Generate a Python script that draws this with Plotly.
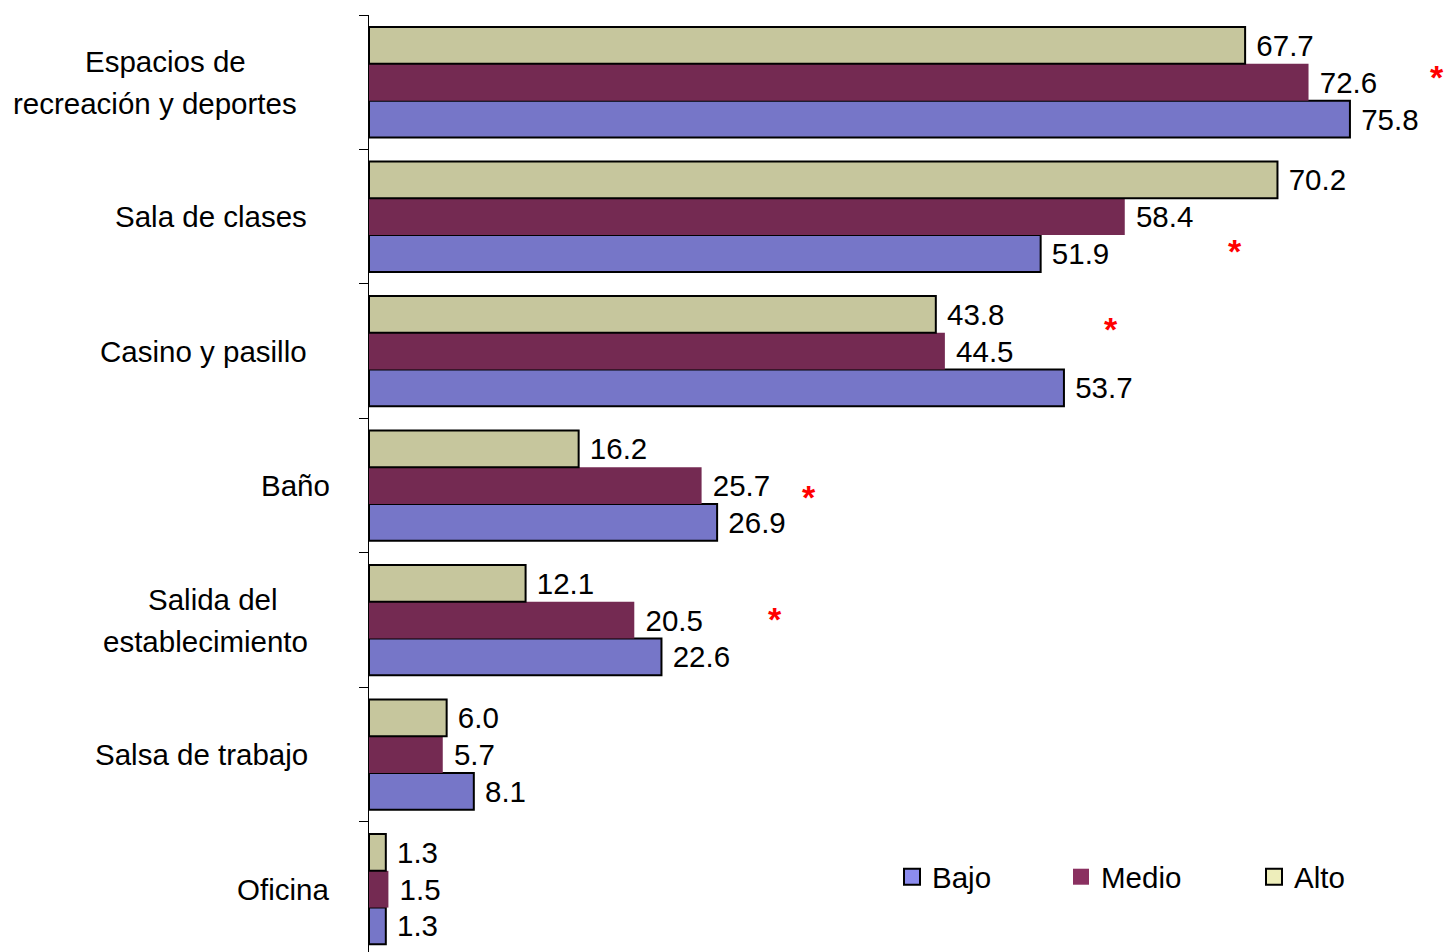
import plotly.graph_objects as go

categories = ["Espacios de<br>recreación y deportes", "Sala de clases", "Casino y pasillo",
              "Baño", "Salida del<br>establecimiento", "Salsa de trabajo", "Oficina"]
bajo = [75.8, 51.9, 53.7, 26.9, 22.6, 8.1, 1.3]
medio = [72.6, 58.4, 44.5, 25.7, 20.5, 5.7, 1.5]
alto = [67.7, 70.2, 43.8, 16.2, 12.1, 6.0, 1.3]
series_names = ["Bajo", "Medio", "Alto"]
# categories with a significant difference (red asterisk)
significant = ["Espacios de<br>recreación y deportes", "Sala de clases", "Casino y pasillo",
               "Baño", "Salida del<br>establecimiento"]

# plot bottom-to-top so first category is at the top
cats_r = categories[::-1]
bajo_r, medio_r, alto_r = bajo[::-1], medio[::-1], alto[::-1]

colors = {"Bajo": "#7676c8", "Medio": "#742a52", "Alto": "#c6c69d"}
legend_colors = {"Bajo": "#8c8cee", "Medio": "#8a3060", "Alto": "#eeeebb"}
lines = {"Bajo": 2, "Medio": 0, "Alto": 2}
legend_ids = {"Bajo": "legend", "Medio": "legend2", "Alto": "legend3"}

FONT = "Liberation Sans, Arial, sans-serif"
FS = 29.5
fig = go.Figure()
for name, vals in zip(series_names, [bajo_r, medio_r, alto_r]):
    fig.add_trace(go.Bar(
        y=cats_r, x=vals, name=name, orientation="h",
        marker=dict(color=colors[name], line=dict(color="black", width=lines[name])),
        texttemplate="\u00a0%{x:.1f}", textposition="outside",
        textfont=dict(size=FS, color="black", family=FONT),
        constraintext="none", cliponaxis=False, showlegend=False,
    ))
    # legend swatch
    fig.add_trace(go.Scatter(
        x=[None], y=[None], mode="markers", name=name, legend=legend_ids[name],
        marker=dict(symbol="square", size=16, color=legend_colors[name],
                    line=dict(color="black", width=lines[name])),
        showlegend=True,
    ))

# category labels (centered, left of the axis); each line centered separately
label_px = [(165, 155), (211,), (203.5,), (295.5,), (212.5, 205), (201.5,), (283,)]
LINE_H = 42
annotations = []
for cat, pxs in zip(categories, label_px):
    parts = cat.split("<br>")
    n = len(parts)
    for i, (part, px) in enumerate(zip(parts, pxs)):
        annotations.append(dict(
            x=(px - 369) / 1078, xref="paper", y=cat, yref="y",
            yshift=((n - 1) / 2 - i) * LINE_H,
            text=part, showarrow=False, xanchor="center", yanchor="middle", align="center",
            font=dict(size=FS, color="black", family=FONT),
        ))

# significance asterisks
star_pos = [(82.5, 5), (66.9, -34.5), (57.3, 22), (34.0, -11.5), (31.4, 1)]
for cat, (sx, sh) in zip(significant, star_pos):
    annotations.append(dict(
        x=sx, y=cat, xref="x", yref="y", yshift=sh, text="<b>*</b>", showarrow=False,
        xanchor="center", yanchor="middle",
        font=dict(size=34, color="#ff0000", family=FONT),
    ))

leg_common = dict(orientation="h", yanchor="middle", y=0.08, xanchor="left",
                  bgcolor="rgba(0,0,0,0)", font=dict(size=FS, color="black", family=FONT))

fig.update_layout(
    width=1447, height=952,
    margin=dict(l=369, r=0, t=15, b=0, autoexpand=False),
    plot_bgcolor="white", paper_bgcolor="white",
    showlegend=True,
    barmode="group", bargap=0.18, bargroupgap=0,
    xaxis=dict(visible=False, range=[0, 83.3], automargin=False),
    yaxis=dict(type="category", categoryorder="array", categoryarray=cats_r,
               range=[-0.467, 6.5], showticklabels=False, ticks="outside",
               tickson="boundaries", ticklen=9, tickcolor="black", automargin=False,
               showline=True, linecolor="black", linewidth=1, showgrid=False, zeroline=False),
    annotations=annotations,
    legend=dict(x=(892 - 369) / 1078, **leg_common),
    legend2=dict(x=(1061 - 369) / 1078, **leg_common),
    legend3=dict(x=(1254 - 369) / 1078, **leg_common),
    font=dict(family=FONT),
)

fig.write_html("out.html", config={"displayModeBar": False},
               post_script="document.body.style.margin='0px';")
